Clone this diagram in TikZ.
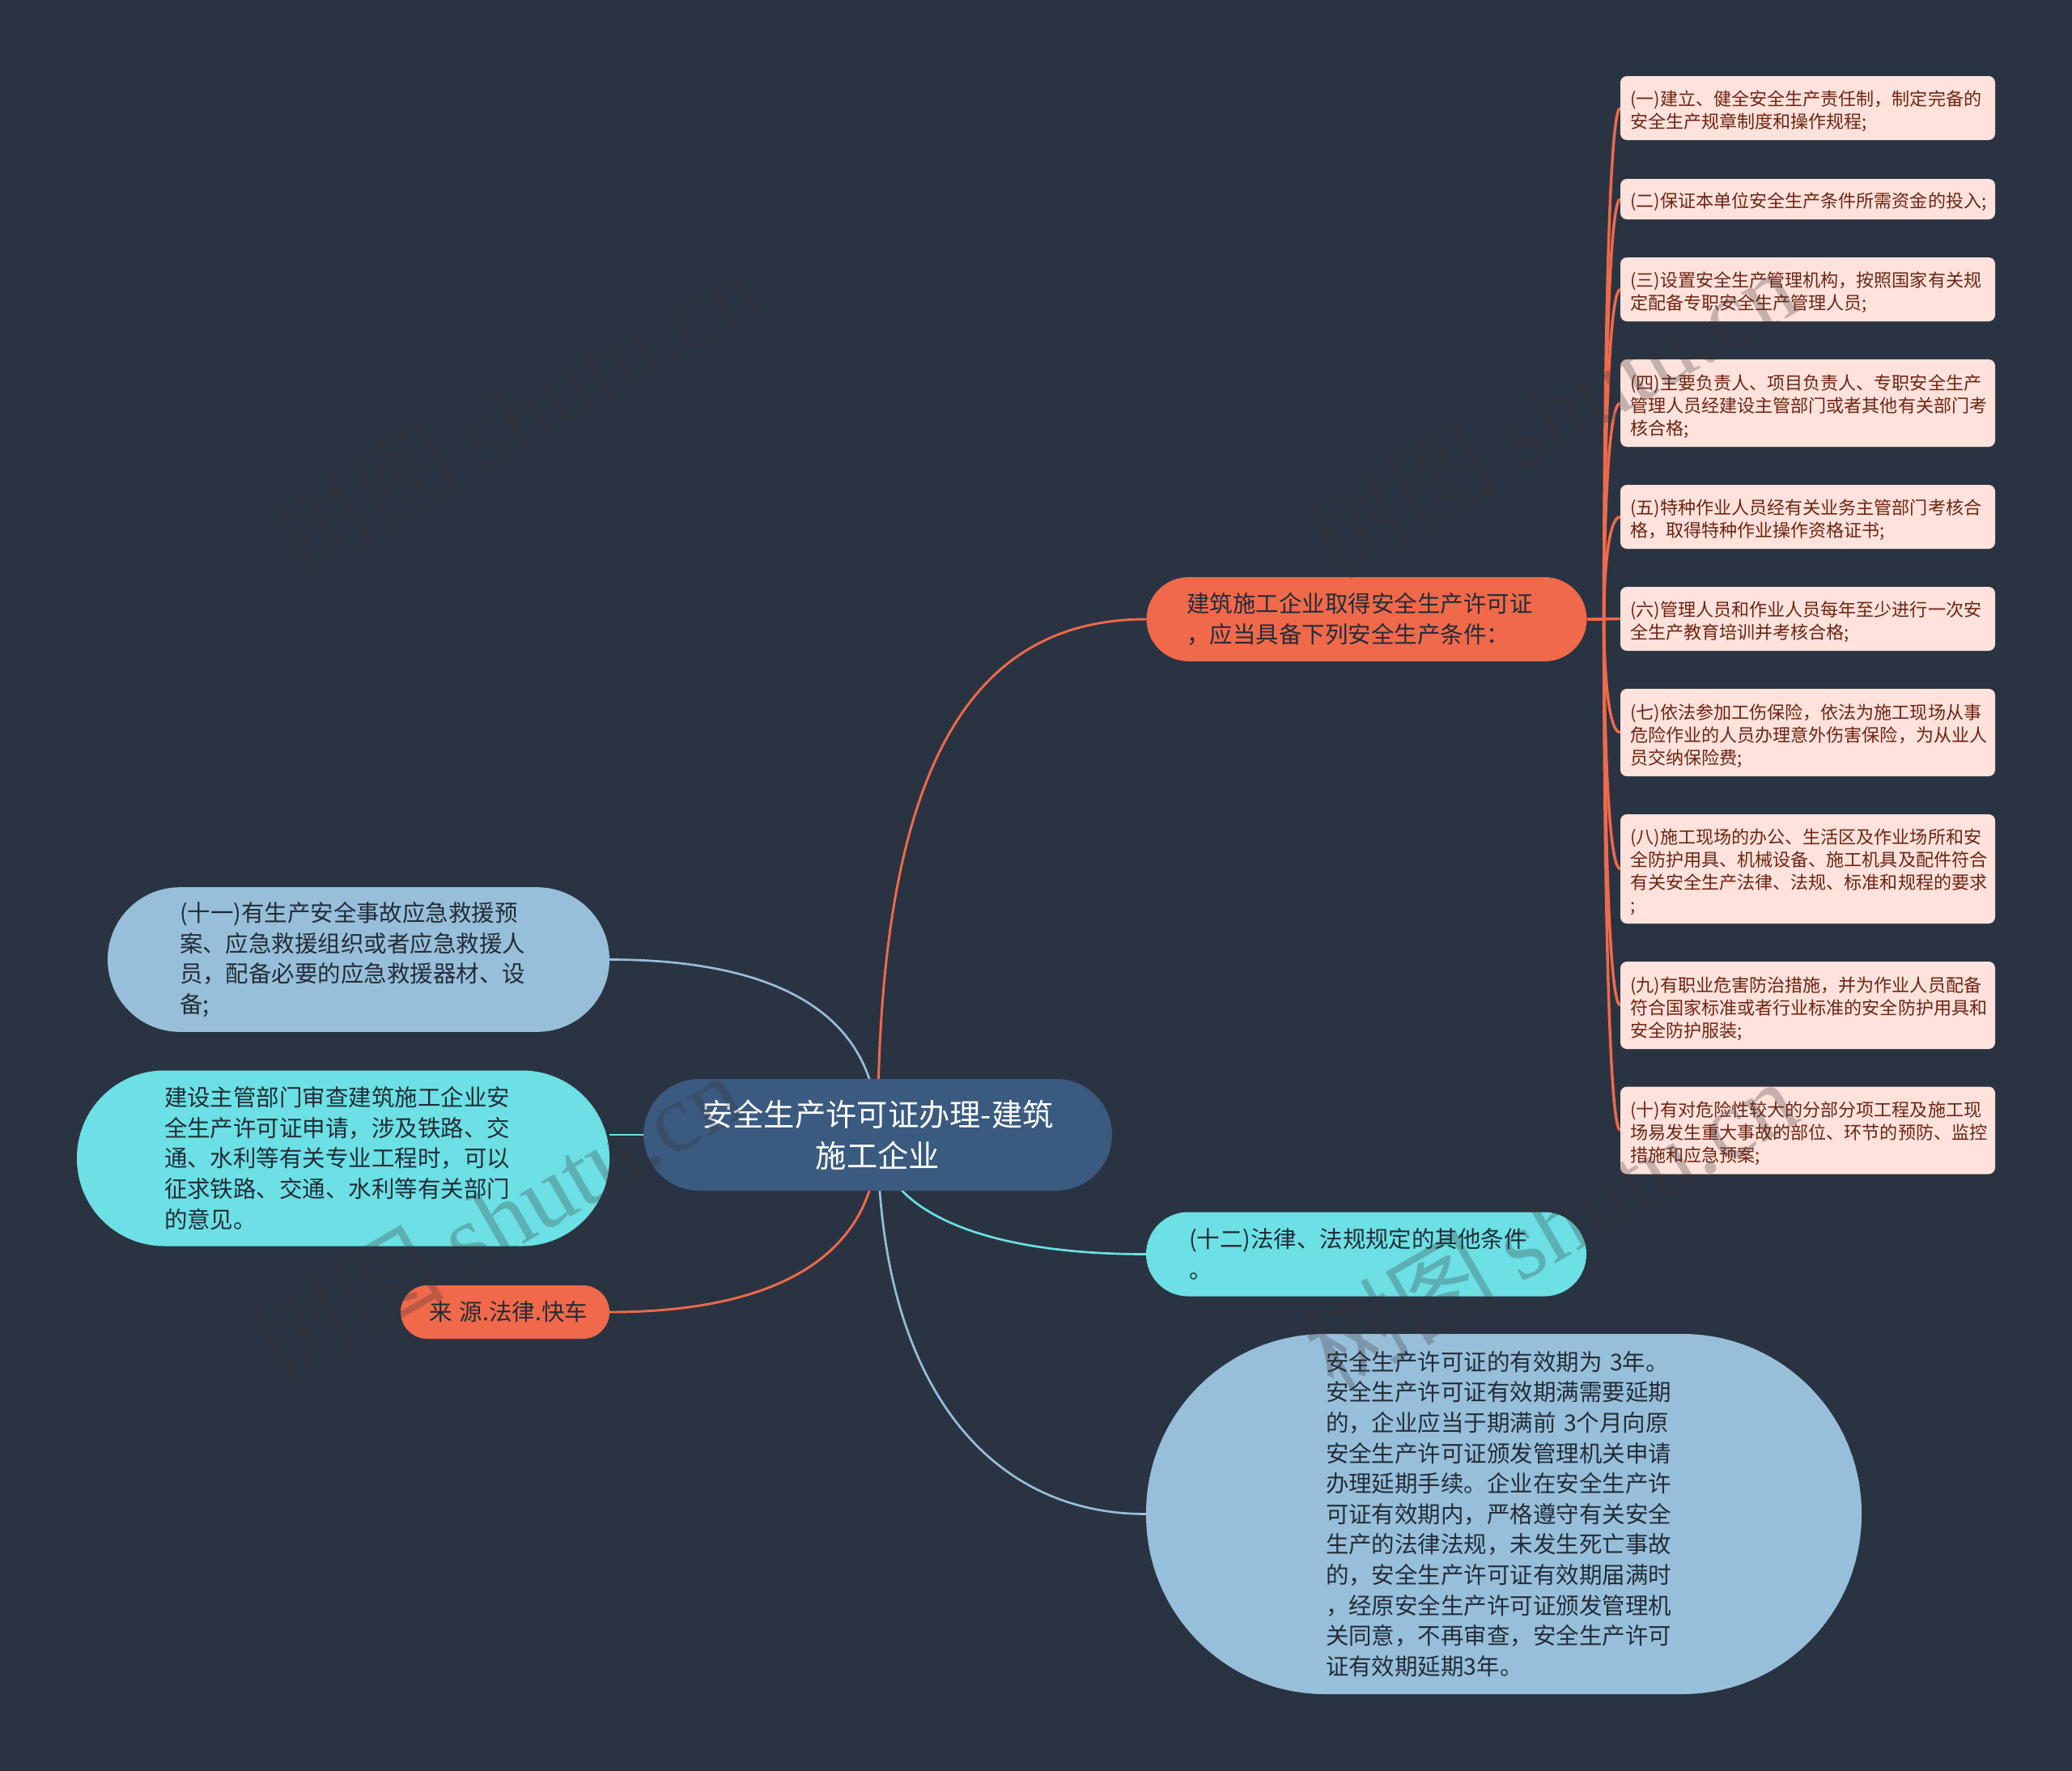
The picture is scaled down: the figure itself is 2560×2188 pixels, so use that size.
\documentclass[tikz,border=0pt]{standalone}
\usepackage{fontspec}
\setmainfont{Noto Sans CJK SC}
\newfontfamily\wmfont{Liberation Serif}
\usetikzlibrary{calc,backgrounds}
\definecolor{bgc}{HTML}{2A3342}
\definecolor{mainc}{HTML}{3B5A80}
\definecolor{orangec}{HTML}{F0694A}
\definecolor{bluec}{HTML}{98BFDA}
\definecolor{cyanc}{HTML}{6CE0E4}
\definecolor{leafc}{HTML}{FFE2DB}
\definecolor{leaft}{HTML}{6E2413}
\definecolor{darkt}{HTML}{222C38}
\definecolor{wmc}{HTML}{343237}
\tikzset{
  x=0.75pt,y=-0.75pt,
  base/.style={anchor=center,inner ysep=0pt,outer sep=0pt,align=left},
  pilltext/.style={base,text=darkt,font=\fontsize{21.35pt}{28.2pt}\selectfont},
  leafbox/.style={base,fill=leafc,text=leaft,rounded corners=6pt,inner xsep=9pt,
     font=\fontsize{16.55pt}{21pt}\selectfont,text width=329.25pt,minimum width=347.25pt,
     execute at begin node={\vskip -1.3pt}},
  mainbox/.style={base,fill=mainc,text=white,align=center,rounded corners=51.7pt,
     font=\fontsize{28.7pt}{38pt}\selectfont,minimum width=434pt,minimum height=103.5pt},
  trunk/.style={line width=2.2pt,orangec},
  branch/.style={line width=2pt},
  twig/.style={line width=2.6pt,orangec},
  wmark/.style={text=wmc,opacity=0.28,rotate=30,font=\fontsize{90pt}{90pt}\selectfont,inner sep=0pt},
}
\newcommand{\wmtext}{树图 {\wmfont shutu.cn}}
\begin{document}
\begin{tikzpicture}
\useasboundingbox (0,0) rectangle (2560,2188);
\begin{scope}[on background layer]
\fill[bgc] (0,0) rectangle (2560,2188);
\end{scope}

\node[mainbox] (main) at (1084.5,1402) {安全生产许可证办理-建筑\\施工企业};

\node[pilltext,fill=orangec,rounded corners=39pt,inner xsep=37.5pt,
  minimum width=408pt,text width=333pt,minimum height=78pt] (tr) at (1688.5,765)
  {建筑施工企业取得安全生产许可证\\，应当具备下列安全生产条件：};

\node[pilltext,fill=cyanc,rounded corners=39pt,inner xsep=39.75pt,
  minimum width=408pt,text width=328.5pt,minimum height=78pt] (cr) at (1688,1549.5)
  {(十二)法律、法规规定的其他条件\\。};

\node[pilltext,fill=bluec,rounded corners=166pt,inner xsep=166.5pt,
  minimum width=663pt,text width=330pt,minimum height=333.75pt] (br) at (1858,1870.5)
  {安全生产许可证的有效期为 3年。\\安全生产许可证有效期满需要延期\\的，企业应当于期满前 3个月向原\\安全生产许可证颁发管理机关申请\\办理延期手续。企业在安全生产许\\可证有效期内，严格遵守有关安全\\生产的法律法规，未发生死亡事故\\的，安全生产许可证有效期届满时\\，经原安全生产许可证颁发管理机\\关同意，不再审查，安全生产许可\\证有效期延期3年。};

\node[pilltext,fill=bluec,rounded corners=67pt,inner xsep=66.75pt,
  minimum width=465pt,text width=331.5pt,minimum height=134pt] (l1) at (443,1185.5)
  {(十一)有生产安全事故应急救援预\\案、应急救援组织或者应急救援人\\员，配备必要的应急救援器材、设\\备;};

\node[pilltext,fill=cyanc,rounded corners=81pt,inner xsep=81pt,
  minimum width=493.5pt,text width=331.5pt,minimum height=162.75pt] (l2) at (424,1431)
  {建设主管部门审查建筑施工企业安\\全生产许可证申请，涉及铁路、交\\通、水利等有关专业工程时，可以\\征求铁路、交通、水利等有关部门\\的意见。};

\node[pilltext,fill=orangec,rounded corners=24.7pt,inner xsep=26.25pt,
  minimum width=193.5pt,text width=141pt,minimum height=49.5pt] (l3) at (624,1621)
  {\mbox{来 源.法律.快车}};

\node[leafbox,minimum height=59.25pt] (a1) at (2233.5,133.5) {(一)建立、健全安全生产责任制，制定完备的\\安全生产规章制度和操作规程;};
\node[leafbox,minimum height=37.5pt] (a2) at (2233.5,246) {(二)保证本单位安全生产条件所需资金的投入;};
\node[leafbox,minimum height=59.25pt] (a3) at (2233.5,357.5) {(三)设置安全生产管理机构，按照国家有关规\\定配备专职安全生产管理人员;};
\node[leafbox,minimum height=81pt] (a4) at (2233.5,498) {(四)主要负责人、项目负责人、专职安全生产\\管理人员经建设主管部门或者其他有关部门考\\核合格;};
\node[leafbox,minimum height=59.25pt] (a5) at (2233.5,638.5) {(五)特种作业人员经有关业务主管部门考核合\\格，取得特种作业操作资格证书;};
\node[leafbox,minimum height=59.25pt] (a6) at (2233.5,764.5) {(六)管理人员和作业人员每年至少进行一次安\\全生产教育培训并考核合格;};
\node[leafbox,minimum height=81pt] (a7) at (2233.5,905) {(七)依法参加工伤保险，依法为施工现场从事\\危险作业的人员办理意外伤害保险，为从业人\\员交纳保险费;};
\node[leafbox,minimum height=101.25pt] (a8) at (2233.5,1073.5) {(八)施工现场的办公、生活区及作业场所和安\\全防护用具、机械设备、施工机具及配件符合\\有关安全生产法律、法规、标准和规程的要求\\;};
\node[leafbox,minimum height=81pt] (a9) at (2233.5,1242) {(九)有职业危害防治措施，并为作业人员配备\\符合国家标准或者行业标准的安全防护用具和\\安全防护服装;};
\node[leafbox,minimum height=81pt] (a10) at (2233.5,1396.5) {(十)有对危险性较大的分部分项工程及施工现\\场易发生重大事故的部位、环节的预防、监控\\措施和应急预案;};

\node[wmark] (w1) at (635,510) {\wmtext};
\node[wmark] (w2) at (1915,510) {\wmtext};
\node[wmark] (w3) at (612,1504) {\wmtext};
\node[wmark] (w4) at (1915,1512) {\wmtext};

\coordinate (tj) at ($(tr.east)+(21,0)$);
\begin{scope}[on background layer]
\draw[trunk] (main.center) .. controls +(0,-450) and +(-220,0) .. (tr.west);
\draw[branch,cyanc] (main.center) .. controls +(0,80) and +(-230,0) .. (cr.west);
\draw[branch,bluec] (main.center) .. controls +(0,300) and +(-200,0) .. (br.west);
\draw[branch,bluec] (main.center) .. controls +(0,-160) and +(190,0) .. (l1.east);
\draw[branch,cyanc] (main.center) -- (main.center -| l2.east);
\draw[trunk] (main.center) .. controls +(0,160) and +(190,0) .. (l3.east);
\draw[twig] (tr.east) -- (tj);
\foreach \n in {a1,a2,a3,a4,a5,a6,a7,a8,a9,a10}{
  \draw[twig] (tj) .. controls (tj) and (tj |- \n.west) .. (\n.west);
}
\end{scope}
\end{tikzpicture}
\end{document}
